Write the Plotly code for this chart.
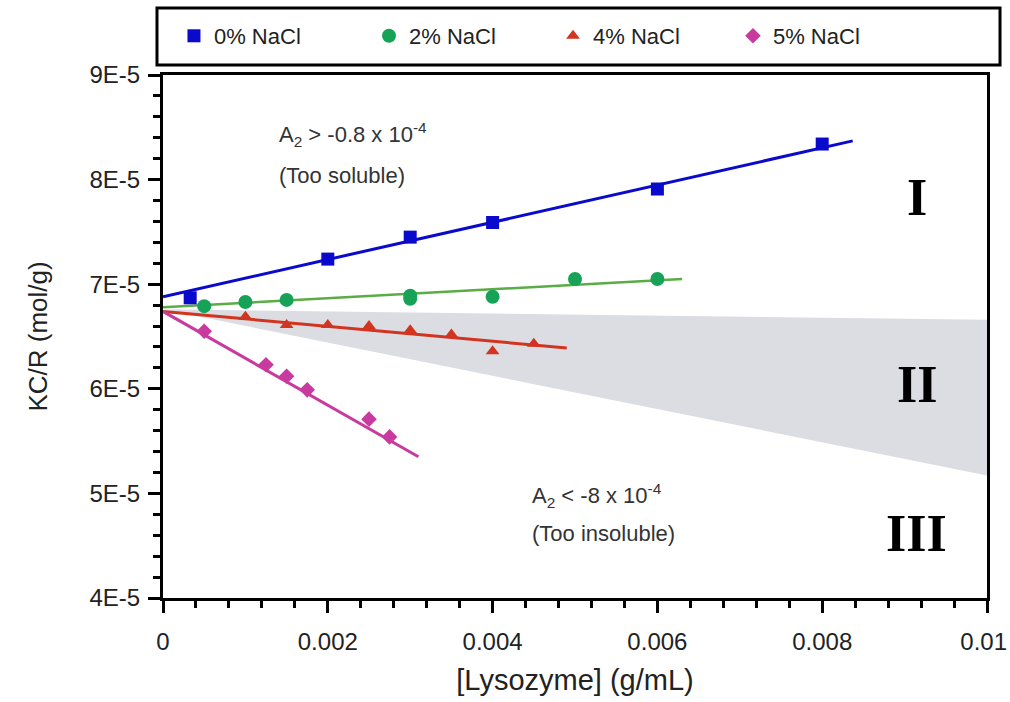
import plotly.graph_objects as go

# ---- data ----
series_names = ["0% NaCl", "2% NaCl", "4% NaCl", "5% NaCl"]

x_0 = [0.00033, 0.002, 0.003, 0.004, 0.006, 0.008]
y_0 = [6.87e-5, 7.24e-5, 7.45e-5, 7.59e-5, 7.91e-5, 8.34e-5]

x_2 = [0.0005, 0.001, 0.0015, 0.003, 0.003, 0.004, 0.005, 0.006]
y_2 = [6.79e-5, 6.83e-5, 6.85e-5, 6.86e-5, 6.89e-5, 6.88e-5, 7.05e-5, 7.05e-5]

x_4 = [0.001, 0.0015, 0.002, 0.0025, 0.003, 0.0035, 0.004, 0.0045]
y_4 = [6.69e-5, 6.61e-5, 6.61e-5, 6.60e-5, 6.56e-5, 6.52e-5, 6.36e-5, 6.43e-5]

x_5 = [0.0005, 0.00125, 0.0015, 0.00175, 0.0025, 0.00275]
y_5 = [6.55e-5, 6.23e-5, 6.12e-5, 5.99e-5, 5.71e-5, 5.54e-5]

# linear-fit end points
fit_x_0 = [0.0, 0.00837]
fit_y_0 = [6.88e-5, 8.37e-5]
fit_x_2 = [0.0, 0.0063]
fit_y_2 = [6.78e-5, 7.05e-5]
fit_x_4 = [0.0, 0.0049]
fit_y_4 = [6.74e-5, 6.39e-5]
fit_x_5 = [0.0, 0.0031]
fit_y_5 = [6.74e-5, 5.35e-5]

# crystallization slot (region II)
band_x = [0.0, 0.01, 0.01, 0.0]
band_y = [6.76e-5, 6.66e-5, 5.17e-5, 6.76e-5]

x_tickvals = [0, 0.002, 0.004, 0.006, 0.008, 0.01]
x_ticktext = ["0", "0.002", "0.004", "0.006", "0.008", "0.01\u00a0"]
y_tickvals = [4e-5, 5e-5, 6e-5, 7e-5, 8e-5, 9e-5]
y_ticktext = ["4E-5", "5E-5", "6E-5", "7E-5", "8E-5", "9E-5"]

region_labels = ["I", "II", "III"]
region_y = [7.83e-5, 6.04e-5, 4.62e-5]

colors = ["#0a0acc", "#16a357", "#d2341f", "#c93a9f"]
line_colors = ["#0a0acc", "#5aac45", "#d2341f", "#c93a9f"]
symbols = ["square", "circle", "triangle-up", "diamond"]
msizes = [13, 14, 12, 12]
legend_ids = ["legend", "legend2", "legend3", "legend4"]
legend_x = [0.0133, 0.2500, 0.4733, 0.6917]

FONT = "Liberation Sans, Arial, sans-serif"

fig = go.Figure()

fig.add_trace(go.Scatter(x=band_x, y=band_y, fill="toself", fillcolor="#dcdde3",
                         line=dict(width=0), mode="lines", hoverinfo="skip",
                         showlegend=False))

xs = [x_0, x_2, x_4, x_5]
ys = [y_0, y_2, y_4, y_5]
fxs = [fit_x_0, fit_x_2, fit_x_4, fit_x_5]
fys = [fit_y_0, fit_y_2, fit_y_4, fit_y_5]
lws = [3, 2.5, 3, 3]

for i in range(4):
    fig.add_trace(go.Scatter(x=fxs[i], y=fys[i], mode="lines",
                             line=dict(color=line_colors[i], width=lws[i]),
                             showlegend=False, hoverinfo="skip"))
for i in range(4):
    fig.add_trace(go.Scatter(x=xs[i], y=ys[i], mode="markers", name=series_names[i],
                             legend=legend_ids[i],
                             marker=dict(symbol=symbols[i], color=colors[i], size=msizes[i],
                                         line=dict(width=0))))

axis_common = dict(showline=True, linewidth=3, linecolor="black", mirror=True,
                   ticks="outside", tickwidth=2.5, tickcolor="black",
                   showgrid=False, zeroline=False, ticklabeloverflow="allow",
                   tickfont=dict(family=FONT, size=24, color="#222"))

fig.update_xaxes(range=[0, 0.01], tickvals=x_tickvals, ticktext=x_ticktext, ticklen=12,
                 ticklabelstandoff=8, automargin=False,
                 minor=dict(dtick=0.0004, tick0=0, ticks="outside", ticklen=7, tickwidth=2.5,
                            tickcolor="black"),
                 title=dict(text="[Lysozyme] (g/mL)", font=dict(family=FONT, size=29, color="#222"),
                            standoff=16),
                 **axis_common)
fig.update_yaxes(range=[4e-5, 9e-5], tickvals=y_tickvals, ticktext=y_ticktext, ticklen=12,
                 ticklabelstandoff=3, automargin=False,
                 minor=dict(dtick=0.2e-5, tick0=4e-5, ticks="outside", ticklen=7, tickwidth=2.5,
                            tickcolor="black"),
                 title=dict(text="KC/R (mol/g)", font=dict(family=FONT, size=26, color="#222"),
                            standoff=35),
                 **axis_common)

ann_font = dict(family=FONT, size=22, color="#333")
ann_items = [
    (0.00138, 8.43e-5, "A<sub>2</sub> > -0.8 x 10<sup>-4</sup>"),
    (0.00138, 8.04e-5, "(Too soluble)"),
    (0.00445, 4.98e-5, "A<sub>2</sub> < -8 x 10<sup>-4</sup>"),
    (0.00445, 4.62e-5, "(Too insoluble)"),
]
for ax_, ay_, t_ in ann_items:
    fig.add_annotation(x=ax_, y=ay_, xref="x", yref="y", xanchor="left", yanchor="middle",
                       text=t_, showarrow=False, align="left", font=ann_font)

roman_font = dict(family="Liberation Serif, Times New Roman, serif", size=52, color="black")
for txt, yy in zip(region_labels, region_y):
    fig.add_annotation(x=0.00915, y=yy, xref="x", yref="y", text="<b>" + txt + "</b>",
                       showarrow=False, font=roman_font, xanchor="center", yanchor="middle")

# legend frame
fig.add_shape(type="rect", xref="paper", yref="paper", x0=-0.0073, x1=1.0158,
              y0=1.019, y1=1.128, line=dict(color="black", width=3), fillcolor="white",
              layer="below")

legend_style = dict(orientation="h", xanchor="left", y=1.0746, yanchor="middle",
                    font=dict(family=FONT, size=22, color="#222"),
                    bgcolor="rgba(0,0,0,0)", borderwidth=0)
layout_legends = {}
for lid, lx in zip(legend_ids, legend_x):
    layout_legends[lid] = dict(x=lx, **legend_style)

fig.update_layout(
    width=1010, height=702,
    margin=dict(l=163, r=23, t=75, b=104, autoexpand=False),
    paper_bgcolor="white", plot_bgcolor="white",
    showlegend=True,
    **layout_legends,
)

# remove the default page margin and scrollbars so the figure fills the window exactly
post = ("document.body.style.margin='0';"
        "document.body.style.padding='0';"
        "document.documentElement.style.overflow='hidden';"
        "document.body.style.overflow='hidden';")
fig.write_html("out.html", post_script=post, config={"displayModeBar": False})
